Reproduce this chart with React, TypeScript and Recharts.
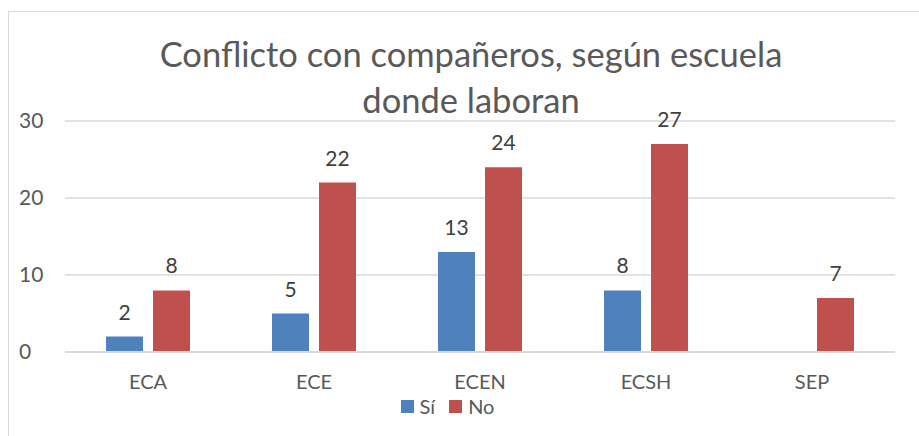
import React from "react";
import { BarChart, Bar, XAxis, YAxis, CartesianGrid, Legend, LabelList } from "recharts";

const categories = ["ECA", "ECE", "ECEN", "ECSH", "SEP"];
const siValues: (number | null)[] = [2, 5, 13, 8, null];
const noValues = [8, 22, 24, 27, 7];
const yTicks = [0, 10, 20, 30];

const data = categories.map((name, i) => ({ name, si: siValues[i], no: noValues[i] }));

const FONT = "Lato, 'Open Sans', sans-serif";
const TEXT = "#595959";

const LegendContent = () => (
  <div style={{ display: "flex", justifyContent: "center", gap: 14, fontFamily: FONT, fontSize: 20, color: TEXT }}>
    <span style={{ display: "flex", alignItems: "center", gap: 6 }}>
      <span style={{ width: 13, height: 13, background: "#4f81bd", display: "inline-block" }} />Sí
    </span>
    <span style={{ display: "flex", alignItems: "center", gap: 6 }}>
      <span style={{ width: 13, height: 13, background: "#c0504d", display: "inline-block" }} />No
    </span>
  </div>
);

export default function App() {
  return (
    <div style={{ position: "fixed", left: 0, top: 0, width: 919, height: 436, background: "#fff", overflow: "hidden" }}>
      <div style={{ position: "absolute", left: 8, top: 11, width: 930, height: 450, border: "1.5px solid #d9d9d9" }} />
      <div style={{
        position: "absolute", left: 0, width: 942, top: 31, textAlign: "center",
        fontFamily: FONT, fontSize: 34.5, lineHeight: "46px", color: TEXT,
      }}>
        Conflicto con compañeros, según escuela<br />donde laboran
      </div>
      <BarChart
        width={919}
        height={436}
        data={data}
        margin={{ top: 121, right: 24, left: 0, bottom: 4 }}
        barSize={37}
        barGap={10}
        style={{ position: "absolute", left: 0, top: 0 }}
      >
        <CartesianGrid vertical={false} stroke="#d9d9d9" strokeWidth={1.5} />
        <XAxis
          dataKey="name"
          axisLine={{ stroke: "#d9d9d9", strokeWidth: 2 }}
          tickLine={false}
          tick={{ fill: TEXT, fontSize: 20, fontFamily: FONT }}
          tickMargin={17}
          height={42}
        />
        <YAxis
          width={65}
          domain={[0, 30]}
          ticks={yTicks}
          axisLine={false}
          tickLine={false}
          tick={{ fill: TEXT, fontSize: 21, fontFamily: FONT, textAnchor: "start" }}
          dx={-38}
        />
        <Legend verticalAlign="bottom" height={38} content={<LegendContent />} />
        <Bar dataKey="si" fill="#4f81bd" isAnimationActive={false}>
          <LabelList dataKey="si" position="top" offset={17} fill="#404040" fontSize={21} fontFamily={FONT} />
        </Bar>
        <Bar dataKey="no" fill="#c0504d" isAnimationActive={false}>
          <LabelList dataKey="no" position="top" offset={17} fill="#404040" fontSize={21} fontFamily={FONT} />
        </Bar>
      </BarChart>
    </div>
  );
}
